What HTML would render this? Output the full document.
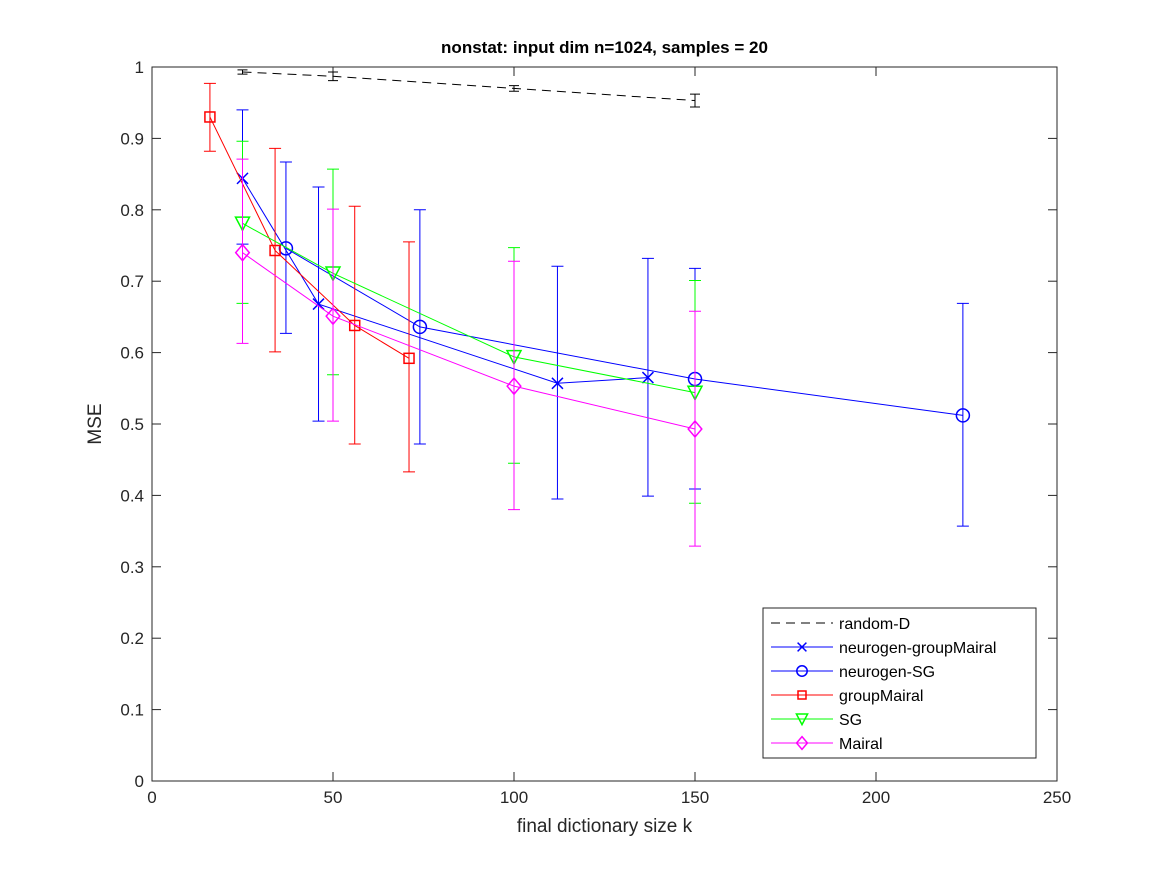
<!DOCTYPE html>
<html><head><meta charset="utf-8"><style>
body{margin:0;background:#fff}
svg{display:block;font-family:"Liberation Sans",sans-serif}
</style></head><body>
<svg id="chart" width="1167" height="875" viewBox="0 0 1167 875">
<rect x="0" y="0" width="1167" height="875" fill="#fff"/>
<g id="plot"></g>
</svg>
<script>
const xTicks=[0,50,100,150,200,250];
const yTicks=[0,0.1,0.2,0.3,0.4,0.5,0.6,0.7,0.8,0.9,1];
const seriesNames=["random-D","neurogen-groupMairal","neurogen-SG","groupMairal","SG","Mairal"];
const randX=[25,50,100,150];
const randY=[0.993,0.987,0.970,0.953];
const randLo=[0.990,0.981,0.966,0.944];
const randHi=[0.996,0.993,0.974,0.962];
const ngmX=[25,46,112,137];
const ngmY=[0.844,0.668,0.557,0.565];
const ngmLo=[0.752,0.504,0.395,0.399];
const ngmHi=[0.940,0.832,0.721,0.732];
const ngsX=[37,74,150,224];
const ngsY=[0.746,0.636,0.563,0.512];
const ngsLo=[0.627,0.472,0.409,0.357];
const ngsHi=[0.867,0.800,0.718,0.669];
const gmX=[16,34,56,71];
const gmY=[0.930,0.743,0.638,0.592];
const gmLo=[0.882,0.601,0.472,0.433];
const gmHi=[0.977,0.886,0.805,0.755];
const sgX=[25,50,100,150];
const sgY=[0.781,0.711,0.594,0.544];
const sgLo=[0.669,0.569,0.445,0.389];
const sgHi=[0.896,0.857,0.747,0.701];
const mX=[25,50,100,150];
const mY=[0.740,0.651,0.553,0.493];
const mLo=[0.613,0.504,0.380,0.329];
const mHi=[0.871,0.801,0.728,0.658];

const L=152,R=1057,T=67,B=781;
const sx=v=>L+(v-0)/(250-0)*(R-L);
const sy=v=>B-(v-0)/(1-0)*(B-T);
const NS="http://www.w3.org/2000/svg";
const g=document.getElementById('plot');
function mk(tag,at,parent){const e=document.createElementNS(NS,tag);for(const k in at)e.setAttribute(k,at[k]);(parent||g).appendChild(e);return e;}

let ax=mk('rect',{x:L,y:T,width:R-L,height:B-T,fill:'#fff',stroke:'#262626','stroke-width':1});


xTicks.forEach(t=>{
  const x=sx(t);
  mk('line',{x1:x,y1:B,x2:x,y2:B-9,stroke:'#262626'});
  mk('line',{x1:x,y1:T,x2:x,y2:T+9,stroke:'#262626'});
  const tx=mk('text',{x:x,y:B+22,'text-anchor':'middle','font-size':17,fill:'#262626'});
  tx.textContent=t;
  
  
});
yTicks.forEach(t=>{
  const y=sy(t);
  mk('line',{x1:L,y1:y,x2:L+9,y2:y,stroke:'#262626'});
  mk('line',{x1:R,y1:y,x2:R-9,y2:y,stroke:'#262626'});
  const tx=mk('text',{x:L-8,y:y+6,'text-anchor':'end','font-size':17,fill:'#262626'});
  tx.textContent=String(t);
  
  
});
let xt=mk('text',{x:(L+R)/2,y:B+51,'text-anchor':'middle','font-size':19,fill:'#262626'});
xt.textContent='final dictionary size k';


let yt=mk('text',{x:0,y:0,'text-anchor':'middle','font-size':19,fill:'#262626',transform:`translate(101,${(T+B)/2}) rotate(-90)`});
yt.textContent='MSE';


let tt=mk('text',{x:(L+R)/2,y:53,'text-anchor':'middle','font-size':17,'font-weight':'bold',fill:'#000'});
tt.textContent='nonstat: input dim n=1024, samples = 20';



function marker(type,x,y,c,parent,k){
  k=k||1;
  if(type==='x'){const s=5.5*k;mk('path',{d:`M${x-s} ${y-s}L${x+s} ${y+s}M${x-s} ${y+s}L${x+s} ${y-s}`,stroke:c,'stroke-width':1.5,fill:'none'},parent);}
  else if(type==='o'){mk('circle',{cx:x,cy:y,r:6.5*k,stroke:c,'stroke-width':1.5,fill:'none'},parent);}
  else if(type==='s'){const s=5*k;mk('rect',{x:x-s,y:y-s,width:2*s,height:2*s,stroke:c,'stroke-width':1.5,fill:'none'},parent);}
  else if(type==='v'){const s=7*k;mk('path',{d:`M${x-s} ${y-s*0.9}L${x+s} ${y-s*0.9}L${x} ${y+s}Z`,stroke:c,'stroke-width':1.5,fill:'none'},parent);}
  else if(type==='d'){const s=8*k;mk('path',{d:`M${x} ${y-s}L${x+s*0.85} ${y}L${x} ${y+s}L${x-s*0.85} ${y}Z`,stroke:c,'stroke-width':1.5,fill:'none'},parent);}
}
const series=[
 {n:seriesNames[0],X:randX,Y:randY,lo:randLo,hi:randHi,c:'#000',m:null,dash:'9,6',cap:5,name:'series-random-d'},
 {n:seriesNames[1],X:ngmX,Y:ngmY,lo:ngmLo,hi:ngmHi,c:'#0000ff',m:'x',name:'series-neurogen-groupmairal'},
 {n:seriesNames[2],X:ngsX,Y:ngsY,lo:ngsLo,hi:ngsHi,c:'#0000ff',m:'o',name:'series-neurogen-sg'},
 {n:seriesNames[3],X:gmX,Y:gmY,lo:gmLo,hi:gmHi,c:'#ff0000',m:'s',name:'series-groupmairal'},
 {n:seriesNames[4],X:sgX,Y:sgY,lo:sgLo,hi:sgHi,c:'#00ff00',m:'v',name:'series-sg'},
 {n:seriesNames[5],X:mX,Y:mY,lo:mLo,hi:mHi,c:'#ff00ff',m:'d',name:'series-mairal'}
];
series.forEach(s=>{
  const sg=mk('g',{});
  
  
  const cw=s.cap||6;
  s.X.forEach((xv,i)=>{
    const x=sx(xv);
    mk('path',{d:`M${x} ${sy(s.lo[i])}L${x} ${sy(s.hi[i])}M${x-cw} ${sy(s.lo[i])}L${x+cw} ${sy(s.lo[i])}M${x-cw} ${sy(s.hi[i])}L${x+cw} ${sy(s.hi[i])}`,stroke:s.c,'stroke-width':1,fill:'none'},sg);
  });
  const pts=s.X.map((xv,i)=>sx(xv)+','+sy(s.Y[i])).join(' ');
  const pl=mk('polyline',{points:pts,fill:'none',stroke:s.c,'stroke-width':1,'stroke-dasharray':s.dash||'none'},sg);
  
  
  if(s.m) s.X.forEach((xv,i)=>marker(s.m,sx(xv),sy(s.Y[i]),s.c,sg));
});
const lg=mk('g',{});


mk('rect',{x:763,y:608,width:273,height:150,fill:'#fff',stroke:'#262626','stroke-width':1},lg);
series.forEach((s,i)=>{
  const y=623+i*24;
  const eg=mk('g',{},lg);
  
  
  mk('line',{x1:771,y1:y,x2:833,y2:y,stroke:s.c,'stroke-width':1,'stroke-dasharray':s.dash||'none'},eg);
  if(s.m) marker(s.m,802,y,s.c,eg,0.8);
  const t=mk('text',{x:839,y:y+6,'font-size':16,fill:'#000'},eg);
  t.textContent=s.n;
});
</script>
</body></html>
